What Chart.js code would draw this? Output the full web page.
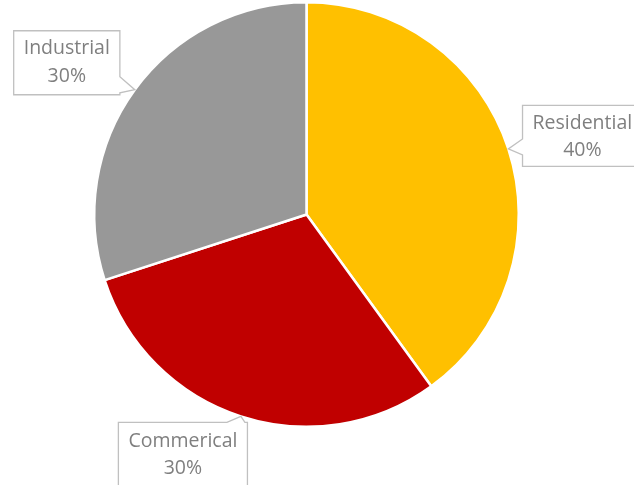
<!DOCTYPE html>
<html>
<head>
<meta charset="utf-8">
<script src="https://cdn.jsdelivr.net/npm/chart.js@4.4.1/dist/chart.umd.min.js"></script>
<style>
html,body{margin:0;padding:0;background:#fff;}
#wrap{width:634px;height:485px;position:relative;}
</style>
</head>
<body>
<div id="wrap"><canvas id="c" width="634" height="485"></canvas></div>
<script>
const categories = ["Residential", "Commerical", "Industrial"];
const shares = [40, 30, 30];
const percentLabels = ["40%", "30%", "30%"];
const sliceColors = ["#FFC000", "#C00000", "#989898"];

// callout box placement relative to the slice's outer mid-point (layout only)
const calloutOffsets = [
  {dx: 74, dy: -13, h: 61, t1: -12, t2: 15},
  {dx: -58, dy: 38, h: 64, t1: -13, t2: 14},
  {dx: -68, dy: -27, h: 64, t1: -14, t2: 14}
];

const calloutPlugin = {
  id: 'callouts',
  afterDatasetsDraw(chart) {
    const ctx = chart.ctx;
    const meta = chart.getDatasetMeta(0);
    ctx.save();
    ctx.font = '19.5px "Open Sans", "Liberation Sans", sans-serif';
    meta.data.forEach((arc, i) => {
      const p = arc.getProps(['x','y','startAngle','endAngle','outerRadius'], true);
      const mid = (p.startAngle + p.endAngle) / 2;
      const tx = p.x + Math.cos(mid) * p.outerRadius;
      const ty = p.y + Math.sin(mid) * p.outerRadius;
      const off = calloutOffsets[i];
      const l1 = categories[i], l2 = percentLabels[i];
      const w = Math.max(ctx.measureText(l1).width, ctx.measureText(l2).width) + 20;
      const h = off.h;
      const cx = tx + off.dx, cy = ty + off.dy;
      const L = cx - w/2, R = cx + w/2, T = cy - h/2, B = cy + h/2;
      const clamp = (v, a, b) => Math.max(a, Math.min(b, v));
      ctx.beginPath();
      if (tx < L) {
        const a = clamp(ty - 10, T + 2, B - 18), b = a + 16;
        ctx.moveTo(L, T); ctx.lineTo(R, T); ctx.lineTo(R, B); ctx.lineTo(L, B);
        ctx.lineTo(L, b); ctx.lineTo(tx, ty); ctx.lineTo(L, a); ctx.closePath();
      } else if (tx > R) {
        const b = clamp(ty + 4, T + 18, B - 2), a = b - 16;
        ctx.moveTo(L, T); ctx.lineTo(R, T); ctx.lineTo(R, a); ctx.lineTo(tx, ty);
        ctx.lineTo(R, b); ctx.lineTo(R, B); ctx.lineTo(L, B); ctx.closePath();
      } else if (ty < T) {
        const b = clamp(tx + 4, L + 18, R - 2), a = b - 18;
        ctx.moveTo(L, T); ctx.lineTo(a, T); ctx.lineTo(tx, ty); ctx.lineTo(b, T);
        ctx.lineTo(R, T); ctx.lineTo(R, B); ctx.lineTo(L, B); ctx.closePath();
      } else {
        const a = clamp(tx - 10, L + 2, R - 18), b = a + 16;
        ctx.moveTo(L, T); ctx.lineTo(R, T); ctx.lineTo(R, B); ctx.lineTo(b, B);
        ctx.lineTo(tx, ty); ctx.lineTo(a, B); ctx.lineTo(L, B); ctx.closePath();
      }
      ctx.fillStyle = '#ffffff';
      ctx.fill();
      ctx.strokeStyle = '#c0c0c0';
      ctx.lineWidth = 1.3;
      ctx.stroke();
      ctx.fillStyle = '#7f7f7f';
      ctx.textAlign = 'center';
      ctx.textBaseline = 'middle';
      ctx.fillText(l1, cx, cy + off.t1);
      ctx.fillText(l2, cx, cy + off.t2);
    });
    ctx.restore();
  }
};

new Chart(document.getElementById('c'), {
  type: 'pie',
  data: {
    labels: categories,
    datasets: [{
      data: shares,
      backgroundColor: sliceColors,
      borderColor: '#ffffff',
      borderWidth: 2.5
    }]
  },
  options: {
    responsive: false,
    animation: false,
    events: [],
    layout: {padding: {left: 93, right: 114, top: 1, bottom: 57}},
    plugins: {
      legend: {display: false},
      tooltip: {enabled: false}
    }
  },
  plugins: [calloutPlugin]
});
</script>
</body>
</html>
